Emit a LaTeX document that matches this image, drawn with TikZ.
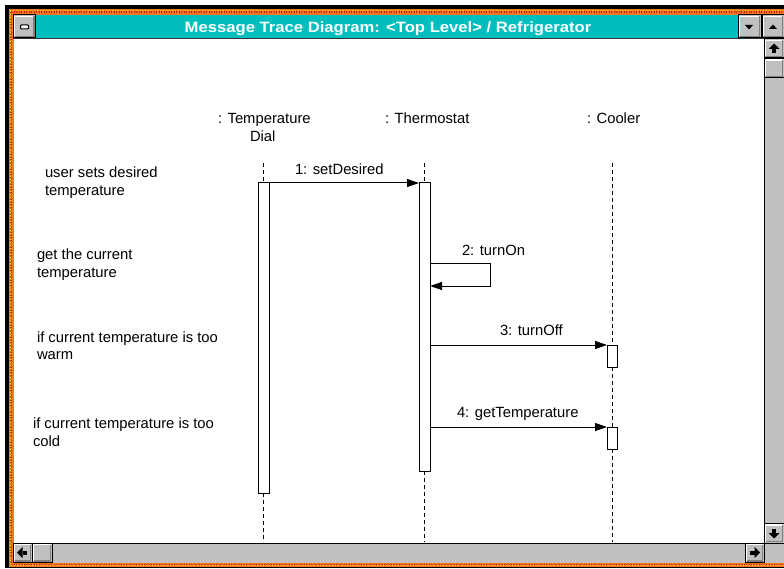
\documentclass[tikz,border=0pt]{standalone}
\usepackage{fontspec}
\usepackage{graphicx}
\setmainfont{Liberation Sans}
\usetikzlibrary{arrows.meta}

\definecolor{wteal}{RGB}{0,190,190}
\definecolor{btngray}{RGB}{192,192,192}
\definecolor{btnshadow}{RGB}{128,128,128}
\definecolor{frameorange}{RGB}{238,118,36}
\definecolor{framered}{RGB}{200,30,20}

% a raised 3-D push button: corners (x1,y1) (x2,y2)
\newcommand{\winbutton}[4]{%
  \fill[btngray] (#1,#2) rectangle (#3,#4);
  \draw[white, line width=1.5pt] (#1+1.5,#4-1.5) -- (#1+1.5,#2+1.5) -- (#3-1.5,#2+1.5);
  \draw[btnshadow, line width=1.5pt] (#1+1.5,#4-1.5) -- (#3-1.5,#4-1.5) -- (#3-1.5,#2+1.5);
  \draw[black, line width=1pt] (#1,#2) rectangle (#3,#4);
}

\begin{document}
\begin{tikzpicture}[x=1pt,y=-1pt,
  txt/.style={anchor=base west, inner sep=0pt, outer sep=0pt,
              font=\fontsize{14.8}{18}\selectfont},
  lifeline/.style={line width=1pt, dash pattern=on 4pt off 3pt},
  actbox/.style={draw, fill=white, line width=1pt, inner sep=0pt, outer sep=0pt,
                 minimum width=11pt, anchor=north},
  msg/.style={line width=1pt, -{Triangle[length=12pt,width=8pt]}}]
\useasboundingbox (0,0) rectangle (784,569);

% ---- window frame ----
\fill[white] (0,0) rectangle (784,569);
\fill[black] (5,5) rectangle (784,568);
\fill[frameorange] (9,9.5) rectangle (784,566.5);
\draw[framered, line width=1.5pt, dash pattern=on 1pt off 1.5pt]
  (11,12) -- (784,12) (11,12) -- (11,564.5) -- (784,564.5);
\draw[yellow!90!orange, line width=1pt, dash pattern=on 1pt off 2pt]
  (10,11) -- (784,11) (10,11) -- (10,565.5) -- (784,565.5);

% ---- title bar ----
\fill[wteal] (13,15) rectangle (784,38);
\draw[black!80, line width=1pt] (13,38.5) -- (784,38.5);
\node[anchor=base, inner sep=0pt, text=white,
      font=\fontsize{15}{18}\selectfont\bfseries] (title) at (388,33)
  {\scalebox{1.11}[1]{Message Trace Diagram: <Top Level> / Refrigerator}};

% control-menu and sizing buttons
\winbutton{13}{15}{35.5}{38}
\draw[black, fill=white, line width=1pt, rounded corners=0.8pt] (20.5,25) rectangle (28.5,29);
\winbutton{738}{15}{761}{38}
\fill[black] (745,25) -- (753,25) -- (749,29.5) -- cycle;
\winbutton{762}{15}{784}{38}
\fill[black] (769,29) -- (777,29) -- (773,24.5) -- cycle;

% ---- drawing area ----
\fill[white] (13.5,39) rectangle (764,542.5);

% vertical scroll bar
\fill[btngray] (764,39) rectangle (784,543);
\draw[black, line width=1pt] (764,39) -- (764,543);
\winbutton{764}{39}{784}{58}
\fill[black] (768.5,49) -- (779.5,49) -- (774,43.5) -- cycle;
\fill[black] (772,49) rectangle (776,53);
\winbutton{764}{58.5}{784}{78}
\winbutton{764}{523.5}{784}{543}
\fill[black] (768.5,533) -- (779.5,533) -- (774,538.5) -- cycle;
\fill[black] (772,529) rectangle (776,533);

% horizontal scroll bar
\fill[btngray] (13,543) rectangle (784,562.5);
\draw[black, line width=1pt] (13,543) -- (784,543);
\winbutton{13}{543}{32}{562.5}
\fill[black] (17,552.5) -- (22.5,547) -- (22.5,558) -- cycle;
\fill[black] (22.5,550.5) rectangle (27,554.5);
\winbutton{32}{543}{52}{562.5}
\winbutton{745}{543}{764}{562.5}
\fill[black] (760,552.5) -- (754.5,547) -- (754.5,558) -- cycle;
\fill[black] (750,550.5) rectangle (754.5,554.5);
\fill[btngray] (764.5,543.5) rectangle (784,562);

% ---- object headers ----
\node[txt] (hdrTD)   at (218,124) {: Temperature};
\node[txt] (hdrTD2)  at (250,142) {Dial};
\node[txt] (hdrTh)   at (385,124) {: Thermostat};
\node[txt] (hdrCo)   at (587,124) {: Cooler};

% ---- activations ----
\node[actbox, minimum height=310pt] (tdAct) at (263.5,183) {};
\node[actbox, minimum height=288pt] (thAct) at (424.5,183) {};
\node[actbox, minimum width=10pt, minimum height=22pt] (coA) at (612,345) {};
\node[actbox, minimum width=10pt, minimum height=22pt] (coB) at (612,427) {};

% ---- lifelines ----
\coordinate (tdTop) at (263.5,163);
\coordinate (tdBot) at (263.5,542);
\coordinate (thTop) at (424.5,163);
\coordinate (thBot) at (424.5,542);
\coordinate (coTop) at (612,163);
\coordinate (coBot) at (612,542);
\draw[lifeline] (tdTop) -- (tdAct.north);
\draw[lifeline] (tdAct.south) -- (tdBot);
\draw[lifeline] (thTop) -- (thAct.north);
\draw[lifeline] (thAct.south) -- (thBot);
\draw[lifeline] (coTop) -- (coA.north);
\draw[lifeline] (coA.south) -- (coB.north);
\draw[lifeline] (coB.south) -- (coBot);

% ---- messages ----
\draw[msg] (tdAct.north east) -- (thAct.north west);
\node[txt] (m1) at (295,175) {1: setDesired};

\draw[msg] ([yshift=-81pt]thAct.north east) -| ([xshift=60pt,yshift=-103pt]thAct.north east)
           -- ([yshift=-103pt]thAct.north east);
\node[txt] (m2) at (462,256) {2: turnOn};

\draw[msg] (thAct.east |- coA.north west) -- (coA.north west);
\node[txt] (m3) at (500,335) {3: turnOff};

\draw[msg] (thAct.east |- coB.north west) -- (coB.north west);
\node[txt] (m4) at (457,417) {4: getTemperature};

% ---- script notes ----
\node[txt] (n1a) at (45,178) {user sets desired};
\node[txt] (n1b) at (45,196) {temperature};
\node[txt] (n2a) at (37,260) {get the current};
\node[txt] (n2b) at (37,278) {temperature};
\node[txt] (n3a) at (37,342) {if current temperature is too};
\node[txt] (n3b) at (37,359) {warm};
\node[txt] (n4a) at (33,428) {if current temperature is too};
\node[txt] (n4b) at (33,446) {cold};
\end{tikzpicture}
\end{document}
